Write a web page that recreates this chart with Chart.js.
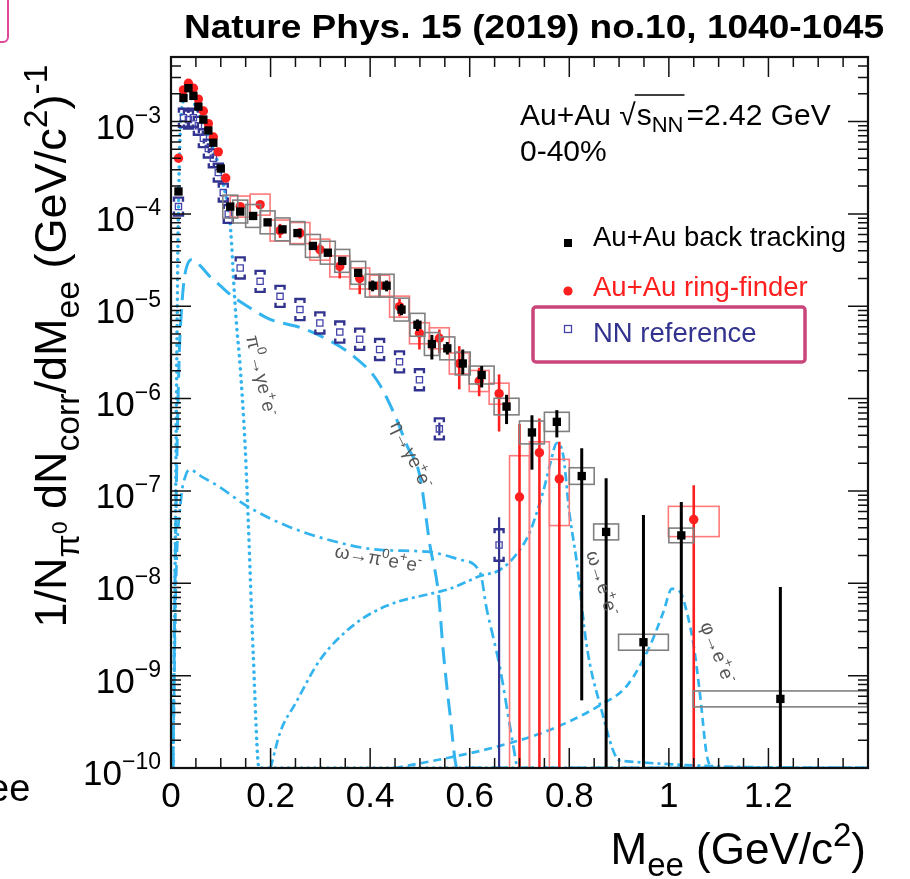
<!DOCTYPE html>
<html><head><meta charset="utf-8">
<script src="https://cdn.jsdelivr.net/npm/chart.js@4.4.1/dist/chart.umd.min.js"></script>
<style>html,body{margin:0;padding:0;background:#fff;}canvas{display:block;}</style>
</head><body>
<canvas id="c" width="910" height="879"></canvas>
<script>
// ---------------- DATA ----------------
const xTickLabels = ['0','0.2','0.4','0.6','0.8','1','1.2',''];
const yTickExponents = [-10,-9,-8,-7,-6,-5,-4,-3];

// Au+Au back tracking
const btMass  = [0.015,0.025,0.035,0.045,0.055,0.065,0.075,0.085,0.1,0.119,0.139,0.165,0.194,0.224,0.254,0.285,0.315,0.344,0.376,0.405,0.433,0.463,0.495,0.524,0.555,0.586,0.624,0.674,0.725,0.775,0.825,0.874,0.949,1.025,1.224];
const btYield = [1.75e-4,1.8e-3,2.3e-3,1.9e-3,1.45e-3,1.05e-3,8.0e-4,5.9e-4,3.1e-4,1.2e-4,1.06e-4,9.5e-5,8.1e-5,6.8e-5,6.2e-5,4.5e-5,3.8e-5,3.1e-5,2.3e-5,1.67e-5,1.67e-5,9.2e-6,6.3e-6,3.9e-6,3.5e-6,2.4e-6,1.8e-6,8.2e-7,4.3e-7,5.6e-7,1.45e-7,3.6e-8,2.3e-9,3.3e-8,5.6e-10];
const btStatLo = [null,null,null,null,null,null,null,null,null,null,null,null,null,null,null,null,null,null,null,1.45e-5,1.45e-5,8.0e-6,5.4e-6,2.65e-6,3.0e-6,1.83e-6,1.32e-6,5.3e-7,1.7e-7,3.8e-7,5.4e-10,1e-12,1e-12,1e-12,1e-12];
const btStatHi = [null,null,null,null,null,null,null,null,null,null,null,null,null,null,null,null,null,null,null,1.9e-5,1.9e-5,1.06e-5,7.2e-6,4.9e-6,4.1e-6,3.4e-6,2.25e-6,1.1e-6,6.6e-7,7.5e-7,2.9e-7,1.37e-7,5.5e-8,7.6e-8,9.1e-9];
const btHalfWidth = [null,null,null,null,null,null,null,null,null,0.015,0.015,0.015,0.015,0.015,0.015,0.015,0.015,0.015,0.015,0.015,0.015,0.015,0.015,0.015,0.015,0.015,0.025,0.025,0.025,0.025,0.025,0.025,0.05,0.025,0.175];
const btSysFactor = [null,null,null,null,null,null,null,null,null,1.33,1.33,1.33,1.33,1.33,1.33,1.33,1.33,1.33,1.33,1.33,1.33,1.33,1.33,1.33,1.33,1.33,1.25,1.23,1.33,1.27,1.23,1.22,1.22,1.2,1.22];

// Au+Au ring-finder
const rfMass  = [0.015,0.025,0.035,0.045,0.055,0.065,0.075,0.085,0.095,0.11,0.139,0.179,0.219,0.259,0.299,0.339,0.379,0.419,0.459,0.499,0.539,0.579,0.619,0.659,0.70,0.74,0.78,1.05];
const rfYield = [4.0e-4,2.2e-3,2.6e-3,2.3e-3,1.75e-3,1.3e-3,9.5e-4,6.8e-4,4.7e-4,2.45e-4,1.2e-4,1.26e-4,6.6e-5,6.2e-5,4.1e-5,2.7e-5,2.0e-5,1.67e-5,9.9e-6,5.1e-6,4.5e-6,2.4e-6,1.55e-6,1.13e-6,8.6e-8,2.6e-7,1.35e-7,4.9e-8];
const rfStatLo = [null,null,null,null,null,null,null,null,null,null,null,null,5.5e-5,5.4e-5,3.4e-5,2.0e-5,1.35e-5,1.24e-5,7.8e-6,3.4e-6,3.1e-6,1.26e-6,1.06e-6,4.4e-7,1e-12,1e-12,1e-12,1e-12];
const rfStatHi = [null,null,null,null,null,null,null,null,null,null,null,null,7.8e-5,7.0e-5,4.8e-5,3.3e-5,2.4e-5,2.2e-5,1.2e-5,6.9e-6,5.6e-6,3.7e-6,2.16e-6,1.83e-6,5.3e-7,6.1e-7,3.4e-7,1.15e-7];
const rfHalfWidth = [null,null,null,null,null,null,null,null,null,null,0.02,0.02,0.02,0.02,0.02,0.02,0.02,0.02,0.02,0.02,0.02,0.02,0.02,0.02,0.02,0.02,0.02,0.051];
const rfSysUp = [null,null,null,null,null,null,null,null,null,null,1.3,1.3,1.3,1.3,1.3,1.3,1.3,1.3,1.3,1.3,1.3,1.3,1.3,1.3,2.8,1.31,1.63,1.39];
const rfSysDn = [null,null,null,null,null,null,null,null,null,null,1.3,1.3,1.3,1.3,1.3,1.3,1.3,1.3,1.3,1.3,1.3,1.3,1.3,1.3,1e6,1e6,3.2,1.53];

// NN reference
const nnMass  = [0.015,0.025,0.035,0.045,0.055,0.065,0.075,0.085,0.095,0.105,0.115,0.139,0.179,0.219,0.259,0.299,0.339,0.379,0.419,0.459,0.499,0.539,0.659];
const nnYield = [1.2e-4,1.1e-3,1.05e-3,1.1e-3,9.0e-4,6.6e-4,5.1e-4,4.0e-4,2.8e-4,1.7e-4,1.0e-4,2.6e-5,1.86e-5,1.28e-5,9.2e-6,6.6e-6,5.25e-6,4.4e-6,3.4e-6,2.5e-6,1.6e-6,4.7e-7,2.6e-8];
const nnStatLo = [null,null,null,null,null,null,null,null,null,null,null,null,null,null,null,null,null,null,null,null,null,4.0e-7,1e-12];
const nnStatHi = [null,null,null,null,null,null,null,null,null,null,null,null,null,null,null,null,null,null,null,null,null,5.5e-7,5.2e-8];
const nnSysFactor = [1.25,1.25,1.25,1.25,1.25,1.25,1.25,1.25,1.25,1.25,1.25,1.3,1.3,1.3,1.3,1.3,1.3,1.3,1.3,1.3,1.3,1.3,1.48];

// cocktail components
const pi0Mass  = [0.004,0.008,0.011,0.014,0.017,0.02,0.025,0.03,0.04,0.05,0.06,0.07,0.08,0.09,0.1,0.11,0.115,0.118,0.122,0.126,0.131,0.139,0.149,0.155,0.165,0.177,1.4];
const pi0Yield = [1e-10,1e-8,1e-6,5e-5,4e-4,1.1e-3,1.7e-3,1.9e-3,1.8e-3,1.45e-3,1.1e-3,8.2e-4,6.0e-4,4.2e-4,2.8e-4,1.6e-4,1.2e-4,8.7e-5,4.5e-5,1.8e-5,7e-6,2.2e-6,3e-7,5e-8,1.8e-9,1e-10,1e-10];
const etaMass  = [0.004,0.008,0.013,0.017,0.021,0.025,0.03,0.042,0.06,0.078,0.1,0.122,0.16,0.199,0.259,0.313,0.366,0.413,0.447,0.474,0.50,0.52,0.537,0.547,0.56,0.575,1.4];
const etaYield = [1e-10,1e-8,5e-7,3.5e-6,9e-6,1.66e-5,2.5e-5,3.2e-5,2.7e-5,2.1e-5,1.65e-5,1.3e-5,9.5e-6,7.2e-6,5.9e-6,4.4e-6,2.9e-6,1.6e-6,7.1e-7,3.1e-7,1.44e-7,2.6e-8,7.9e-9,1.8e-9,4e-10,1e-10,1e-10];
const omDalMass  = [0.004,0.01,0.02,0.03,0.038,0.06,0.098,0.152,0.232,0.333,0.42,0.514,0.581,0.621,0.634,0.648,0.661,0.68,0.695];
const omDalYield = [1e-10,1e-8,8e-8,1.5e-7,1.7e-7,1.45e-7,1.1e-7,6.9e-8,4.2e-8,2.8e-8,2.3e-8,2.2e-8,1.8e-8,1.3e-8,5.3e-9,2.5e-9,1.2e-9,3e-10,1e-10];
const omEEMass  = [0.2,0.22,0.25,0.3,0.366,0.433,0.534,0.56,0.621,0.661,0.695,0.72,0.735,0.75,0.762,0.775,0.788,0.80,0.815,0.835,0.862,0.902,1.4];
const omEEYield = [1e-10,2.5e-10,5e-10,1.5e-9,3.5e-9,5.7e-9,8e-9,8.7e-9,1.2e-8,1.4e-8,2.1e-8,3.5e-8,5.9e-8,1.1e-7,2.0e-7,3.3e-7,2.4e-7,5.9e-8,1.7e-8,2.1e-9,4.8e-10,1.2e-10,1e-10];
const phiMass  = [0.45,0.56,0.654,0.762,0.862,0.916,0.962,0.989,1.006,1.023,1.036,1.05,1.063,1.076,1.09,1.4];
const phiYield = [1e-10,1.3e-10,1.7e-10,2.6e-10,4.8e-10,7.8e-10,2.1e-9,4.9e-9,8.7e-9,8e-9,4.9e-9,2.1e-9,6e-10,1.4e-10,1e-10,1e-10];

// ---------------- STYLE ----------------
const FONT = '"Liberation Sans", Arial, Helvetica, sans-serif';
const CURVE = '#33b4ef';
const RED = '#ff1f1f';
const NNCOL = '#32328f';

const pts = (xs, ys) => xs.map((x, i) => ({x, y: ys[i]}));

function fontOf(k, F, sc) {
  const s = k === 'n' ? F : (k === 'ss' ? F * 0.5 : F * sc);
  return s + 'px ' + FONT;
}
function offOf(k, F) {
  return k === 'sub' ? F * 0.28 : (k === 'sup' ? -F * 0.42 : (k === 'ss' ? F * 0.02 : 0));
}
function richWidth(ctx, segs, F, sc) {
  let w = 0;
  for (const [t, k] of segs) { ctx.font = fontOf(k, F, sc); w += ctx.measureText(t).width; }
  return w;
}
function drawRich(ctx, segs, x, y, F, sc, align) {
  const w = richWidth(ctx, segs, F, sc);
  let cx = align === 'right' ? x - w : (align === 'center' ? x - w / 2 : x);
  for (const [t, k] of segs) {
    ctx.font = fontOf(k, F, sc);
    ctx.fillText(t, cx, y + offOf(k, F));
    cx += ctx.measureText(t).width;
  }
  return w;
}
function vline(ctx, x, y0, y1) { ctx.beginPath(); ctx.moveTo(x, y0); ctx.lineTo(x, y1); ctx.stroke(); }

function drawStat(ctx, sx, sy, xs, lo, hi, color, lw) {
  ctx.strokeStyle = color; ctx.lineWidth = lw;
  xs.forEach((m, i) => {
    if (lo[i] == null) return;
    vline(ctx, sx.getPixelForValue(m), sy.getPixelForValue(lo[i]), sy.getPixelForValue(hi[i]));
  });
}
function drawBoxes(ctx, sx, sy, xs, ys, hw, up, dn, color, lw) {
  ctx.strokeStyle = color; ctx.lineWidth = lw;
  xs.forEach((m, i) => {
    if (hw[i] == null) return;
    const x0 = sx.getPixelForValue(m - hw[i]), x1 = sx.getPixelForValue(m + hw[i]);
    const y0 = sy.getPixelForValue(ys[i] * up[i]), y1 = sy.getPixelForValue(ys[i] / dn[i]);
    ctx.strokeRect(x0, y0, x1 - x0, y1 - y0);
  });
}
function drawBrackets(ctx, sx, sy, xs, ys, f, color) {
  const w = 4.5, t = 4;
  ctx.strokeStyle = color; ctx.lineWidth = 2.4;
  xs.forEach((m, i) => {
    if (f[i] == null) return;
    const p = sx.getPixelForValue(m);
    const yt = sy.getPixelForValue(ys[i] * f[i]), yb = sy.getPixelForValue(ys[i] / f[i]);
    ctx.beginPath();
    ctx.moveTo(p - w, yt + t); ctx.lineTo(p - w, yt); ctx.lineTo(p + w, yt); ctx.lineTo(p + w, yt + t);
    ctx.moveTo(p - w, yb - t); ctx.lineTo(p - w, yb); ctx.lineTo(p + w, yb); ctx.lineTo(p + w, yb - t);
    ctx.stroke();
  });
}

const errorPlugin = {
  id: 'errs',
  beforeDatasetDraw(chart, args) {
    const ctx = chart.ctx, a = chart.chartArea, sx = chart.scales.x, sy = chart.scales.y;
    ctx.save();
    ctx.beginPath(); ctx.rect(a.left, a.top, a.right - a.left, a.bottom - a.top); ctx.clip();
    if (args.index === 0) {
      drawBoxes(ctx, sx, sy, btMass, btYield, btHalfWidth, btSysFactor, btSysFactor, '#808080', 1.6);
      drawStat(ctx, sx, sy, btMass, btStatLo, btStatHi, '#000', 3);
    } else if (args.index === 1) {
      drawBoxes(ctx, sx, sy, rfMass, rfYield, rfHalfWidth, rfSysUp, rfSysDn, '#ff7a7a', 1.6);
      drawStat(ctx, sx, sy, rfMass, rfStatLo, rfStatHi, RED, 2.6);
    } else if (args.index === 2) {
      drawStat(ctx, sx, sy, nnMass, nnStatLo, nnStatHi, NNCOL, 2.2);
      drawBrackets(ctx, sx, sy, nnMass, nnYield, nnSysFactor, NNCOL);
    }
    ctx.restore();
  }
};

const decoPlugin = {
  id: 'deco',
  afterDatasetsDraw(chart) {
    const ctx = chart.ctx, a = chart.chartArea, sx = chart.scales.x, sy = chart.scales.y;
    ctx.save();
    ctx.strokeStyle = '#111'; ctx.lineWidth = 1.5;
    for (let i = 0; i <= 28; i++) {
      const p = sx.getPixelForValue(i * 0.05);
      const len = (i % 4 === 0) ? 20 : 10;
      vline(ctx, p, a.bottom, a.bottom - len);
      vline(ctx, p, a.top, a.top + len);
    }
    for (let e = -10; e <= -3; e++) {
      for (let m = 1; m <= 9; m++) {
        const v = m * Math.pow(10, e);
        if (v > sy.max * 1.0001) break;
        const p = sy.getPixelForValue(v);
        const len = m === 1 ? 20 : 10;
        ctx.beginPath(); ctx.moveTo(a.left, p); ctx.lineTo(a.left + len, p);
        ctx.moveTo(a.right, p); ctx.lineTo(a.right - len, p); ctx.stroke();
      }
    }
    ctx.lineWidth = 2.2; ctx.strokeStyle = '#111';
    ctx.strokeRect(a.left, a.top, a.right - a.left, a.bottom - a.top);

    ctx.fillStyle = '#000'; ctx.textBaseline = 'alphabetic';
    yTickExponents.forEach(k => {
      const p = sy.getPixelForValue(Math.pow(10, k));
      const sup = '\u2212' + String(-k);
      ctx.font = '23px ' + FONT; const sw = ctx.measureText(sup).width;
      ctx.fillText(sup, 161 - sw, p + 1);
      ctx.font = '35px ' + FONT; const tw = ctx.measureText('10').width;
      ctx.fillText('10', 161 - sw - tw, p + 17);
    });
    ctx.restore();
  },
  afterDraw(chart) {
    const ctx = chart.ctx;
    ctx.save();
    ctx.fillStyle = '#000'; ctx.textBaseline = 'alphabetic';

    const title = 'Nature Phys. 15 (2019) no.10, 1040-1045';
    ctx.font = 'bold 34px ' + FONT;
    const tw = ctx.measureText(title).width;
    ctx.save(); ctx.translate(184, 38); ctx.scale(700 / tw, 1); ctx.fillText(title, 0, 0); ctx.restore();

    ctx.strokeStyle = '#e0489a'; ctx.lineWidth = 2;
    ctx.beginPath(); ctx.moveTo(8, 0); ctx.lineTo(8, 36); ctx.arcTo(8, 42, 2, 42, 5); ctx.lineTo(0, 42); ctx.stroke();

    const ySegs = [['1/N','n'],['\u03c0','sub'],['0','ss'],[' dN','n'],['corr','sub'],['/dM','n'],['ee','sub'],[' (GeV/c','n'],['2','sup'],[')','n'],['-1','sup']];
    ctx.save(); ctx.translate(66, 346); ctx.rotate(-Math.PI / 2);
    drawRich(ctx, ySegs, 0, 0, 45, 0.75, 'center');
    ctx.restore();

    const xSegs = [['M','n'],['ee','sub'],[' (GeV/c','n'],['2','sup'],[')','n']];
    drawRich(ctx, xSegs, 866, 864, 44, 0.75, 'right');

    ctx.font = '38px ' + FONT; ctx.fillText('ee', -12, 801);

    let x = 520, y = 125;
    ctx.font = '30px ' + FONT;
    ctx.fillText('Au+Au ', x, y); x += ctx.measureText('Au+Au ').width;
    ctx.fillText('\u221a', x, y); x += ctx.measureText('\u221a').width + 1;
    const ov0 = x - 2;
    ctx.fillText('s', x, y); x += ctx.measureText('s').width;
    ctx.font = '22px ' + FONT; ctx.fillText('NN', x, y + 7); x += ctx.measureText('NN').width;
    ctx.strokeStyle = '#000'; ctx.lineWidth = 1.4;
    ctx.beginPath(); ctx.moveTo(ov0, y - 30); ctx.lineTo(x + 1, y - 30); ctx.stroke();
    x += 3;
    ctx.font = '30px ' + FONT; ctx.fillText('=2.42 GeV', x, y);
    ctx.fillText('0-40%', 520, 161);

    ctx.font = '27.5px ' + FONT;
    ctx.fillStyle = '#000'; ctx.fillRect(564, 239, 8, 8);
    ctx.fillText('Au+Au back tracking', 593, 246);
    ctx.fillStyle = RED; ctx.beginPath(); ctx.arc(568, 291, 4.6, 0, Math.PI * 2); ctx.fill();
    ctx.fillText('Au+Au ring-finder', 593, 296);
    ctx.strokeStyle = '#4444aa'; ctx.lineWidth = 1.3; ctx.strokeRect(564.5, 325.5, 7, 7);
    ctx.fillStyle = NNCOL; ctx.fillText('NN reference', 593, 342);

    ctx.strokeStyle = '#c9457a'; ctx.lineWidth = 3.5;
    ctx.beginPath(); ctx.roundRect(533, 307, 272, 55, 3); ctx.stroke();

    ctx.fillStyle = '#555';
    const labels = [
      [[['\u03c0','n'],['0','sup'],['\u2192\u03b3e','n'],['+','sup'],['e','n'],['-','sup']], 246, 337, 77],
      [[['\u03b7\u2192\u03b3e','n'],['+','sup'],['e','n'],['-','sup']], 390, 425, 64],
      [[['\u03c9\u2192\u03c0','n'],['0','sup'],['e','n'],['+','sup'],['e','n'],['-','sup']], 334, 557, 10],
      [[['\u03c9\u2192e','n'],['+','sup'],['e','n'],['-','sup']], 586, 553, 72],
      [[['\u03c6\u2192e','n'],['+','sup'],['e','n'],['-','sup']], 700, 625, 68]
    ];
    labels.forEach(([segs, lx, ly, ang]) => {
      ctx.save(); ctx.translate(lx, ly); ctx.rotate(ang * Math.PI / 180);
      drawRich(ctx, segs, 0, 0, 19, 0.7, 'left');
      ctx.restore();
    });
    ctx.restore();
  }
};

const curve = (xs, ys, dash, lw, cap) => ({
  type: 'line', data: pts(xs, ys), showLine: true, borderColor: CURVE, borderWidth: lw,
  borderDash: dash, borderCapStyle: cap || 'butt', pointRadius: 0, fill: false,
  cubicInterpolationMode: 'monotone', order: 10
});

new Chart(document.getElementById('c'), {
  type: 'scatter',
  data: {
    datasets: [
      { label: 'Au+Au back tracking', data: pts(btMass, btYield), pointStyle: 'rect', pointRadius: 5.9,
        backgroundColor: '#000', borderColor: '#000', borderWidth: 0, order: 1 },
      { label: 'Au+Au ring-finder', data: pts(rfMass, rfYield), pointStyle: 'circle', pointRadius: 4.7,
        backgroundColor: RED, borderColor: RED, borderWidth: 0, order: 2 },
      { label: 'NN reference', data: pts(nnMass, nnYield), pointStyle: 'rect', pointRadius: 4.4,
        backgroundColor: 'rgba(255,255,255,0)', borderColor: '#4444aa', borderWidth: 1.3, order: 3 },
      curve(pi0Mass, pi0Yield, [0.1, 6.5], 3.6, 'round'),
      curve(etaMass, etaYield, [17, 9], 3),
      curve(omDalMass, omDalYield, [11, 5, 3, 5], 2.7),
      curve(omEEMass, omEEYield, [9, 4, 3, 4], 2.7),
      curve(phiMass, phiYield, [8, 5], 2.7)
    ]
  },
  options: {
    responsive: false, animation: false, devicePixelRatio: 1,
    layout: { padding: { top: 57, right: 42, left: 0, bottom: 0 } },
    plugins: { legend: { display: false }, tooltip: { enabled: false }, title: { display: false } },
    scales: {
      x: {
        type: 'linear', min: 0, max: 1.4,
        grid: { display: false, drawTicks: false }, border: { display: false },
        ticks: { stepSize: 0.2, autoSkip: false, maxRotation: 0, padding: 8, color: '#000',
          font: { family: FONT, size: 35 },
          callback: (v, i) => xTickLabels[i] !== undefined ? xTickLabels[i] : '' },
        afterFit: s => { s.height = 111; }
      },
      y: {
        type: 'logarithmic', min: 1e-10, max: 5e-3,
        grid: { display: false, drawTicks: false }, border: { display: false },
        ticks: { display: false },
        afterFit: s => { s.width = 171; }
      }
    }
  },
  plugins: [errorPlugin, decoPlugin]
});
</script>
</body></html>
